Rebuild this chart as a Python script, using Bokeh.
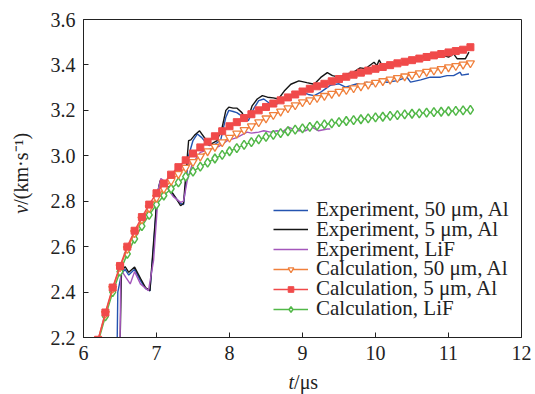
from bokeh.plotting import figure
from bokeh.models import Range1d, FixedTicker, Label, Legend, LegendItem, NumeralTickFormatter
from bokeh.embed import file_html
from bokeh.resources import INLINE
import math

# ---------------- data ----------------
t_calc = [6.2, 6.3, 6.4, 6.5, 6.6, 6.7, 6.8, 6.9, 7.0, 7.1, 7.2, 7.3, 7.4, 7.5, 7.6, 7.7, 7.8, 7.9,
          8.0, 8.1, 8.2, 8.3, 8.4, 8.5, 8.6, 8.7, 8.8, 8.9, 9.0, 9.1, 9.2, 9.3, 9.4, 9.5, 9.6, 9.7,
          9.8, 9.9, 10.0, 10.1, 10.2, 10.3, 10.4, 10.5, 10.6, 10.7, 10.8, 10.9, 11.0, 11.1, 11.2, 11.3]

calc_5um = [2.19, 2.31, 2.42, 2.515, 2.60, 2.67, 2.73, 2.785, 2.835, 2.878, 2.917, 2.95, 2.98, 3.01,
            3.037, 3.062, 3.086, 3.108, 3.13, 3.148, 3.166, 3.183, 3.20, 3.215, 3.23, 3.244, 3.257,
            3.27, 3.283, 3.295, 3.306, 3.317, 3.328, 3.338, 3.348, 3.357, 3.366, 3.375, 3.383, 3.391,
            3.399, 3.407, 3.414, 3.421, 3.428, 3.435, 3.442, 3.448, 3.455, 3.461, 3.467, 3.478]

calc_50um = [2.19, 2.305, 2.415, 2.51, 2.59, 2.66, 2.72, 2.77, 2.815, 2.855, 2.89, 2.92, 2.948, 2.973,
             2.997, 3.02, 3.04, 3.06, 3.08, 3.098, 3.114, 3.13, 3.148, 3.165, 3.18, 3.195, 3.21,
             3.223, 3.236, 3.245, 3.255, 3.264, 3.273, 3.282, 3.29, 3.298, 3.306, 3.314, 3.322,
             3.329, 3.336, 3.343, 3.35, 3.357, 3.364, 3.37, 3.376, 3.382, 3.39, 3.396, 3.402, 3.408]

calc_lif = [2.18, 2.293, 2.40, 2.49, 2.568, 2.634, 2.69, 2.74, 2.785, 2.825, 2.855, 2.883, 2.908, 2.93,
            2.952, 2.97, 2.988, 3.004, 3.02, 3.034, 3.048, 3.06, 3.072, 3.083, 3.092, 3.10, 3.108,
            3.115, 3.121, 3.127, 3.133, 3.138, 3.143, 3.148, 3.153, 3.157, 3.161, 3.165, 3.169,
            3.172, 3.176, 3.179, 3.182, 3.185, 3.187, 3.19, 3.192, 3.194, 3.196, 3.198, 3.20, 3.202]

t_exp_50 = [6.46, 6.47, 6.52, 6.57, 6.62, 6.70, 6.78, 6.85, 6.91, 6.96, 7.01, 7.05, 7.10, 7.17, 7.26,
            7.33, 7.37, 7.41, 7.44, 7.50, 7.56, 7.62, 7.67, 7.72, 7.80, 7.88, 7.95, 7.99, 8.05, 8.10,
            8.19, 8.26, 8.33, 8.40, 8.47, 8.56, 8.65, 8.74, 8.88, 9.00, 9.08, 9.16, 9.25, 9.38, 9.50,
            9.59, 9.75, 9.82, 9.88, 9.95, 10.02, 10.16, 10.30, 10.43, 10.48, 10.62, 10.75, 10.89,
            10.98, 11.07, 11.16, 11.18, 11.28]
v_exp_50 = [2.15, 2.40, 2.48, 2.50, 2.475, 2.50, 2.45, 2.415, 2.405, 2.60, 2.83, 2.885, 2.875, 2.855,
            2.815, 2.79, 2.785, 2.90, 3.0, 3.067, 3.096, 3.08, 3.06, 3.045, 3.05, 3.07, 3.17, 3.20,
            3.195, 3.19, 3.17, 3.155, 3.207, 3.243, 3.25, 3.228, 3.228, 3.25, 3.273, 3.28, 3.27,
            3.265, 3.28, 3.31, 3.317, 3.302, 3.317, 3.31, 3.324, 3.315, 3.331, 3.324, 3.331, 3.346,
            3.324, 3.334, 3.346, 3.346, 3.353, 3.353, 3.368, 3.355, 3.36]

t_exp_5 = [6.50, 6.52, 6.57, 6.62, 6.70, 6.78, 6.85, 6.91, 6.96, 7.01, 7.05, 7.10, 7.17, 7.26, 7.33,
           7.37, 7.41, 7.44, 7.47, 7.52, 7.59, 7.67, 7.74, 7.83, 7.90, 7.95, 7.99, 8.05, 8.10, 8.17,
           8.22, 8.26, 8.31, 8.38, 8.45, 8.52, 8.60, 8.67, 8.75, 8.84, 8.95, 9.06, 9.16, 9.25, 9.34,
           9.41, 9.50, 9.61, 9.70, 9.79, 9.86, 9.98, 10.02, 10.05, 10.09, 10.21, 10.32, 10.43, 10.52,
           10.62, 10.71, 10.82, 10.94, 11.00, 11.07, 11.12, 11.23, 11.28]
v_exp_5 = [2.15, 2.49, 2.512, 2.487, 2.51, 2.46, 2.42, 2.406, 2.62, 2.83, 2.89, 2.88, 2.86, 2.817, 2.78,
           2.79, 2.95, 3.067, 3.07, 3.09, 3.11, 3.074, 3.05, 3.067, 3.126, 3.20, 3.214, 3.21, 3.21,
           3.19, 3.16, 3.17, 3.22, 3.25, 3.265, 3.258, 3.255, 3.25, 3.285, 3.315, 3.33, 3.322, 3.315,
           3.345, 3.366, 3.353, 3.346, 3.36, 3.368, 3.387, 3.383, 3.412, 3.397, 3.422, 3.397, 3.408,
           3.405, 3.416, 3.412, 3.427, 3.449, 3.434, 3.441, 3.434, 3.449, 3.427, 3.427, 3.456]

t_exp_lif = [6.50, 6.51, 6.53, 6.58, 6.64, 6.70, 6.78, 6.89, 6.96, 7.03, 7.06, 7.10, 7.17, 7.23, 7.33,
             7.37, 7.42, 7.49, 7.60, 7.74, 7.85, 7.97, 8.10, 8.24, 8.30, 8.40, 8.47, 8.56, 8.65, 8.72,
             8.81, 8.92, 9.04, 9.13, 9.22, 9.34, 9.38]
v_exp_lif = [2.15, 2.48, 2.49, 2.465, 2.436, 2.49, 2.436, 2.406, 2.54, 2.86, 2.90, 2.89, 2.847, 2.82,
             2.795, 2.80, 2.89, 2.964, 3.015, 3.03, 3.04, 3.067, 3.08, 3.104, 3.10, 3.104, 3.11, 3.104,
             3.11, 3.104, 3.126, 3.11, 3.11, 3.126, 3.11, 3.118, 3.118]

x_ticks = [6, 7, 8, 9, 10, 11, 12]
y_ticks = [2.2, 2.4, 2.6, 2.8, 3.0, 3.2, 3.4, 3.6]

labels = ["Experiment, 50 \u03bcm, Al", "Experiment, 5 \u03bcm, Al", "Experiment, LiF",
          "Calculation, 50 \u03bcm, Al", "Calculation, 5 \u03bcm, Al", "Calculation, LiF"]

# ---------------- figure ----------------
FONT = "Liberation Serif"
INK = "#222222"
p = figure(width=535, height=394, output_backend="svg", toolbar_location=None,
           x_range=Range1d(6, 12), y_range=Range1d(2.2, 3.6),
           min_border_left=83, min_border_right=14, min_border_top=19, min_border_bottom=57)
p.grid.visible = False
p.background_fill_color = "white"
p.border_fill_color = "white"
p.outline_line_color = INK
p.outline_line_width = 1

for ax in (p.xaxis[0], p.yaxis[0]):
    ax.major_tick_in = 5
    ax.major_tick_out = 0
    ax.minor_tick_line_color = None
    ax.axis_line_color = INK
    ax.major_tick_line_color = INK
    ax.major_label_text_font = FONT
    ax.major_label_text_font_size = "20px"
    ax.major_label_text_color = INK
    ax.major_label_standoff = 8
p.xaxis.ticker = FixedTicker(ticks=x_ticks)
p.yaxis.ticker = FixedTicker(ticks=y_ticks)
p.yaxis.formatter = NumeralTickFormatter(format="0.0")

# experiments
r_e50 = p.line(t_exp_50, v_exp_50, line_color="#2453b0", line_width=1.4)
r_e5 = p.line(t_exp_5, v_exp_5, line_color="#151515", line_width=1.4)
r_elif = p.line(t_exp_lif, v_exp_lif, line_color="#a457bb", line_width=1.4)

# calculations
r_cl_line = p.line(t_calc, calc_lif, line_color="#52b848", line_width=1.5)
r_cl_mk = p.scatter(t_calc, calc_lif, marker="diamond", size=9, fill_color="white",
                    line_color="#52b848", line_width=1.5)
r_c50_line = p.line(t_calc, calc_50um, line_color="#f0803c", line_width=1.5)
r_c50_mk = p.scatter(t_calc, calc_50um, marker="inverted_triangle", size=8, fill_color="white",
                     line_color="#f0803c", line_width=1.3)
r_c5_line = p.line(t_calc, calc_5um, line_color="#f04a4a", line_width=1.5)
r_c5_mk = p.scatter(t_calc, calc_5um, marker="square", size=7, fill_color="#f04a4a",
                    line_color="#f04a4a")

# one single-row legend per entry, so the rows can sit as close as in the reference
item_renderers = [[r_e50], [r_e5], [r_elif], [r_c50_line, r_c50_mk],
                  [r_c5_line, r_c5_mk], [r_cl_line, r_cl_mk]]
row_pitch = 19.8
for k, (lab, rends) in enumerate(zip(labels, item_renderers)):
    lg = Legend(items=[LegendItem(label=lab, renderers=rends)],
                location=(190, 16 + (5 - k) * row_pitch), padding=0, margin=0, spacing=0,
                glyph_width=35, glyph_height=14, label_height=14, label_standoff=8,
                label_text_font=FONT, label_text_font_size="21px", label_text_color=INK,
                background_fill_alpha=0, border_line_alpha=0)
    p.add_layout(lg)

# axis labels: italic variable + upright unit, each put into a side panel where it adds no size
p.add_layout(Label(x=8.808, y=2.004, text="t", text_font=FONT, text_font_size="20px",
                   text_font_style="italic", text_color=INK, text_baseline="middle"), "right")
p.add_layout(Label(x=8.808 + 5.6 / 73, y=2.004, text="/\u03bcs", text_font=FONT,
                   text_font_size="20px", text_color=INK, text_baseline="middle"), "below")

p.add_layout(Label(x=5.15, y=2.745, text="v", angle=math.pi / 2, text_font=FONT,
                   text_font_size="20px", text_font_style="italic", text_color=INK,
                   text_baseline="middle", text_align="left"), "above")
p.add_layout(Label(x=5.15, y=2.745 + 9.0 / 227, text="/(km\u00b7s\u207b\u00b9)", angle=math.pi / 2,
                   text_font=FONT, text_font_size="20px", text_color=INK,
                   text_baseline="middle", text_align="left"), "left")

open("out.html", "w").write(file_html(p, INLINE))
